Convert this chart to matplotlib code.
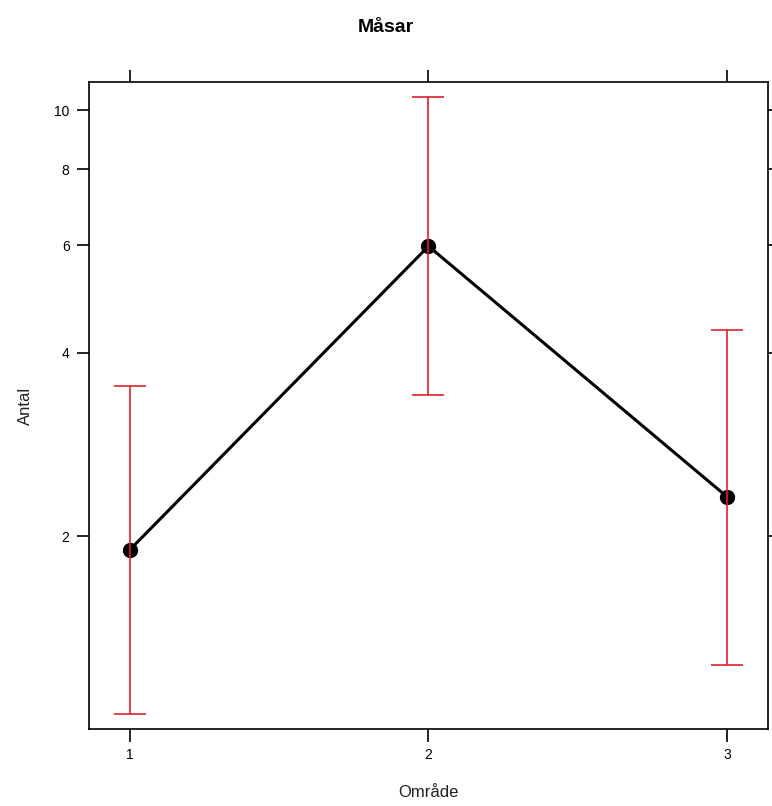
import matplotlib
matplotlib.use("Agg")
import matplotlib.pyplot as plt
import numpy as np

plt.rcParams['font.family'] = ['Liberation Sans', 'DejaVu Sans']

# Estimated counts per area with confidence limits
areas = [1, 2, 3]
fit = [1.90, 5.98, 2.32]
lower = [1.02, 3.41, 1.23]
upper = [3.53, 10.5, 4.36]
yticks = [2, 4, 6, 8, 10]

fig = plt.figure(figsize=(7.72, 8.06), dpi=100)
ax = fig.add_axes([0.1153, 0.0955, 0.8795, 0.8028])

ax.plot(areas, fit, color='black', lw=2.2, marker='o', ms=10, zorder=2)
fit_a = np.array(fit)
ax.errorbar(areas, fit, yerr=[fit_a - np.array(lower), np.array(upper) - fit_a],
            fmt='none', ecolor='#e0202a', elinewidth=1.2, capsize=11.5, capthick=1.2, zorder=3)

ax.set_yscale('log')
ax.set_ylim(0.965, 11.12)
ax.set_xlim(0.863, 3.137)
ax.set_yticks(yticks)
ax.set_yticklabels([str(v) for v in yticks])
ax.yaxis.set_minor_locator(matplotlib.ticker.NullLocator())
ax.set_xticks(areas)
ax.set_xticklabels([str(v) for v in areas])

ax.tick_params(axis='both', which='both', direction='out', length=9, width=1.2,
               labelsize=10, top=True, right=True, labeltop=False, labelright=False,
               colors='black', pad=5)
for s in ax.spines.values():
    s.set_linewidth(1.2)

ax.set_xlabel('Område', fontsize=12, labelpad=16, color='#222222')
ax.set_ylabel('Antal', fontsize=12, labelpad=15, color='#222222')
fig.suptitle('Måsar', fontsize=14, fontweight='bold', y=0.977)

fig.savefig('out.png', dpi=100)
